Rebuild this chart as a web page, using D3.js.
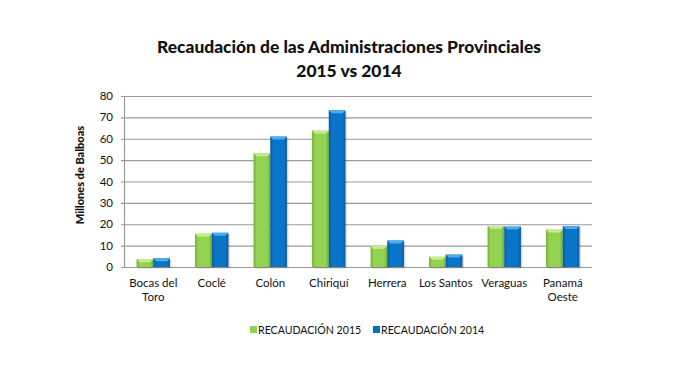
<!DOCTYPE html>
<html>
<head>
<meta charset="utf-8">
<script src="https://cdn.jsdelivr.net/npm/d3@7"></script>
<style>
  body { margin: 0; background: #fff; }
  text { font-family: Lato, "Open Sans", sans-serif; fill: #111; }
</style>
</head>
<body>
<div id="chart"></div>
<script>
// provinces and amounts (millions of balboas)
const provincias = ["Bocas del|Toro", "Coclé", "Colón", "Chiriquí", "Herrera", "Los Santos", "Veraguas", "Panamá|Oeste"];
const recaudacion2015 = [3.6, 15.6, 53.2, 63.8, 9.8, 4.8, 19.2, 17.5];
const recaudacion2014 = [4.1, 16.0, 61.0, 73.3, 12.4, 5.8, 18.9, 19.2];
const yTicks = [0, 10, 20, 30, 40, 50, 60, 70, 80];
const seriesNames = ["RECAUDACIÓN 2015", "RECAUDACIÓN 2014"];

const width = 699, height = 375;
const margin = {top: 96, right: 107, bottom: 108, left: 124};

const svg = d3.select("#chart").append("svg")
    .attr("width", width)
    .attr("height", height);

// gradients for the bevelled bar look
const defs = svg.append("defs");
function makeGrad(id, edge, mid) {
    const g = defs.append("linearGradient").attr("id", id)
        .attr("x1", "0%").attr("x2", "100%").attr("y1", "0%").attr("y2", "0%");
    g.append("stop").attr("offset", "0%").attr("stop-color", edge);
    g.append("stop").attr("offset", "18%").attr("stop-color", mid);
    g.append("stop").attr("offset", "82%").attr("stop-color", mid);
    g.append("stop").attr("offset", "100%").attr("stop-color", edge);
}
makeGrad("gGreen", "#6fae2c", "#94d352");
makeGrad("gBlue", "#0a5a9e", "#0a74c8");

const colors = ["url(#gGreen)", "url(#gBlue)"];
const topColors = ["#c4ec8c", "#4aaef0"];
const legendColors = ["#92d050", "#0070c0"];

const x0 = d3.scaleBand()
    .domain(provincias)
    .range([margin.left, width - margin.right])
    .paddingInner(0.43)
    .paddingOuter(0.215);

const x1 = d3.scaleBand()
    .domain([0, 1])
    .range([0, x0.bandwidth()]);

const y = d3.scaleLinear()
    .domain([0, 80])
    .range([height - margin.bottom, margin.top]);

// gridlines
svg.append("g")
    .selectAll("line")
    .data(yTicks)
    .join("line")
    .attr("x1", margin.left - 3)
    .attr("x2", width - margin.right)
    .attr("y1", d => y(d) + 0.5)
    .attr("y2", d => y(d) + 0.5)
    .attr("stroke", "#9a9a9a")
    .attr("stroke-width", 1.2);

// y axis line
svg.append("line")
    .attr("x1", margin.left + 0.5).attr("x2", margin.left + 0.5)
    .attr("y1", y(80)).attr("y2", y(0))
    .attr("stroke", "#9a9a9a")
    .attr("stroke-width", 1.2);

// tick labels
svg.append("g")
    .selectAll("text")
    .data(yTicks)
    .join("text")
    .attr("x", margin.left - 11)
    .attr("y", d => y(d))
    .attr("dy", "0.35em")
    .attr("text-anchor", "end")
    .attr("font-size", "11.5px")
    .text(d => d);

// y axis title
svg.append("text")
    .attr("transform", "translate(84, 175) rotate(-90)")
    .attr("text-anchor", "middle")
    .attr("font-size", "11px")
    .attr("font-weight", "900")
    .text("Millones de Balboas");

// bars
const groups = svg.append("g")
    .selectAll("g")
    .data(provincias.map((p, i) => ({p, vals: [recaudacion2015[i], recaudacion2014[i]]})))
    .join("g")
    .attr("transform", d => `translate(${x0(d.p)},0)`);

groups.selectAll("rect.shadow")
    .data(d => d.vals)
    .join("rect")
    .attr("class", "shadow")
    .attr("x", (d, i) => x1(i) + 1.5)
    .attr("y", d => y(d) + 1.5)
    .attr("width", x1.bandwidth())
    .attr("height", d => y(0) - y(d))
    .attr("fill", "#000")
    .attr("opacity", 0.15);

groups.selectAll("rect.bar")
    .data(d => d.vals)
    .join("rect")
    .attr("class", "bar")
    .attr("x", (d, i) => x1(i))
    .attr("y", d => y(d))
    .attr("width", x1.bandwidth())
    .attr("height", d => y(0) - y(d))
    .attr("fill", (d, i) => colors[i]);

// bevel on top of each bar
groups.selectAll("path.bevel")
    .data(d => d.vals)
    .join("path")
    .attr("class", "bevel")
    .attr("d", (d, i) => {
        const xl = x1(i), xr = x1(i) + x1.bandwidth(), yt = y(d);
        return `M${xl},${yt} L${xr},${yt} L${xr - 3},${yt + 3} L${xl + 3},${yt + 3} Z`;
    })
    .attr("fill", (d, i) => topColors[i]);

// category labels
const xl = svg.append("g")
    .selectAll("text")
    .data(provincias)
    .join("text")
    .attr("x", d => x0(d) + x0.bandwidth() / 2)
    .attr("y", 287)
    .attr("text-anchor", "middle")
    .attr("font-size", "11.5px");
xl.each(function(d) {
    const parts = d.split("|");
    const t = d3.select(this);
    parts.forEach((s, k) => {
        t.append("tspan")
            .attr("x", x0(d) + x0.bandwidth() / 2)
            .attr("dy", k === 0 ? 0 : 14)
            .text(s);
    });
});

// title
svg.append("text")
    .attr("x", 349).attr("y", 53)
    .attr("text-anchor", "middle")
    .attr("font-size", "17.4px")
    .attr("font-weight", "900")
    .text("Recaudación de las Administraciones Provinciales");
svg.append("text")
    .attr("x", 349).attr("y", 77)
    .attr("text-anchor", "middle")
    .attr("font-size", "17.4px")
    .attr("font-weight", "900")
    .text("2015 vs 2014");

// legend
const legendX = [250, 373];
const leg = svg.append("g")
    .selectAll("g")
    .data(seriesNames)
    .join("g")
    .attr("transform", (d, i) => `translate(${legendX[i]}, 330)`);
leg.append("rect")
    .attr("x", 0).attr("y", -4)
    .attr("width", 7).attr("height", 7)
    .attr("fill", (d, i) => legendColors[i]);
leg.append("text")
    .attr("x", 8).attr("y", 0)
    .attr("dy", "0.35em")
    .attr("font-size", "10.6px")
    .text(d => d);
</script>
</body>
</html>
